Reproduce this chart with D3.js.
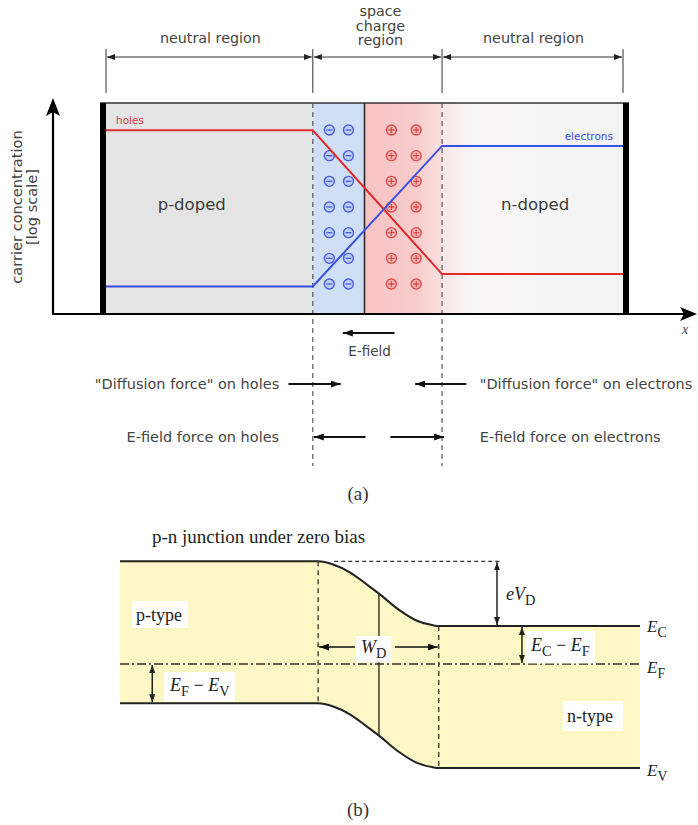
<!DOCTYPE html>
<html>
<head>
<meta charset="utf-8">
<script src="https://cdn.jsdelivr.net/npm/d3@7"></script>
<style>
  body { margin: 0; background: #fff; }
  svg { display: block; }
</style>
</head>
<body>
<svg id="fig" width="698" height="825"></svg>
<script>
// ---------- (a) carrier concentration across a p-n junction ----------
// x positions are given in percent of the device length
const regionEdges = [0, 40, 50, 65, 100];        // p contact | depletion edge | junction | depletion edge | n contact
const sectionSpans = [[0, 40], [40, 65], [65, 100]];
const sectionLabels = [["neutral region"], ["space", "charge", "region"], ["neutral region"]];
// concentrations in cm^-3 (drawn on a log axis)
const holeProfile = [[0, 1e17], [40, 1e17], [65, 1.3e4], [100, 1.3e4]];
const electronProfile = [[0, 1e3], [40, 1e3], [65, 4e15], [100, 4e15]];
const acceptorColumns = [43.2, 46.9];             // fixed negative ions (p side of the depletion zone)
const donorColumns = [55.2, 60.0];                // fixed positive ions (n side)
const ionRows = 7;
const fieldArrow = [55.8, 45.8];
const diffusionArrows = [[35.3, 45.4], [69.7, 59.8]];
const driftArrows = [[50.2, 40.2], [55.0, 65.4]];
const diffusionLabels = ["\"Diffusion force\" on holes", "\"Diffusion force\" on electrons"];
const driftLabels = ["E-field force on holes", "E-field force on electrons"];

// ---------- (b) band diagram under zero bias ----------
const bandGap = 1.12;            // eV
const fermiToValenceP = 0.31;    // E_F - E_V on the p side
const condToFermiN = 0.30;       // E_C - E_F on the n side
const depletionEdgesB = [38.1, 61.3];
const junctionB = 49.8;
// fraction of the built-in band bending reached at each position
const bendProfile = [[0, 0], [38.1, 0], [41.0, 0.05], [44.2, 0.17], [47.5, 0.36], [49.8, 0.5],
                     [53.8, 0.76], [57.1, 0.92], [60.2, 0.99], [61.3, 1], [100, 1]];

const svg = d3.select("#fig");
const defs = svg.append("defs");

function addMarker(id, w, h, color) {
  defs.append("marker")
    .attr("id", id)
    .attr("viewBox", `0 ${-h / 2} ${w} ${h}`)
    .attr("refX", w).attr("refY", 0)
    .attr("markerWidth", w).attr("markerHeight", h)
    .attr("markerUnits", "userSpaceOnUse")
    .attr("orient", "auto-start-reverse")
    .append("path")
    .attr("d", `M0,${-h / 2}L${w},0L0,${h / 2}Z`)
    .attr("fill", color);
}
addMarker("head", 10, 7, "#111");
addMarker("headSmall", 8, 6, "#222");

function gradient(id, stops) {
  const g = defs.append("linearGradient").attr("id", id)
    .attr("x1", "0%").attr("x2", "100%").attr("y1", "0%").attr("y2", "0%");
  stops.forEach(([o, c]) => g.append("stop").attr("offset", o).attr("stop-color", c));
}
gradient("posFill", [["0%", "#f7c3c3"], ["65%", "#f8cbcb"], ["100%", "#fbe1e1"]]);
gradient("nFill", [["0%", "#fae6e6"], ["18%", "#f8f6f6"], ["100%", "#f4f4f4"]]);

// ================= panel (a) =================
const sans = "'DejaVu Sans', Verdana, sans-serif";
const textGrey = "#444";
const xA = d3.scaleLinear().domain([0, 100]).range([106, 623]);
const yA = d3.scaleLog().domain([1, 1e19]).range([320, 108]);
const boxTop = 103, axisY = 314;

const pa = svg.append("g");

// region backgrounds
const regionFills = ["#e4e4e4", "#cfdff6", "url(#posFill)", "url(#nFill)"];
pa.selectAll("rect.region")
  .data(d3.pairs(regionEdges))
  .join("rect")
  .attr("class", "region")
  .attr("x", d => xA(d[0])).attr("width", d => xA(d[1]) - xA(d[0]))
  .attr("y", boxTop).attr("height", axisY - boxTop)
  .attr("fill", (d, i) => regionFills[i]);

// top border and contacts
pa.append("line").attr("x1", xA(0) - 6).attr("x2", xA(100) + 6)
  .attr("y1", boxTop).attr("y2", boxTop).attr("stroke", "#333").attr("stroke-width", 1.6);
[[xA(0) - 6, 6], [xA(100), 6]].forEach(([x, w]) =>
  pa.append("rect").attr("x", x).attr("width", w).attr("y", boxTop).attr("height", axisY - boxTop).attr("fill", "#000"));

// junction
pa.append("line").attr("x1", xA(50)).attr("x2", xA(50)).attr("y1", boxTop).attr("y2", axisY)
  .attr("stroke", "#222").attr("stroke-width", 1.5);

// depletion-edge dashed guides
[40, 65].forEach(e => {
  pa.append("line").attr("x1", xA(e)).attr("x2", xA(e)).attr("y1", boxTop).attr("y2", 466)
    .attr("stroke", "#555").attr("stroke-width", 1.2).attr("stroke-dasharray", "5,4");
});

// dimension lines on top
[0, 40, 65, 100].forEach(e => {
  pa.append("line").attr("x1", xA(e)).attr("x2", xA(e)).attr("y1", 49).attr("y2", 93)
    .attr("stroke", "#333").attr("stroke-width", 1);
});
sectionSpans.forEach(([a, b], i) => {
  pa.append("line").attr("x1", xA(a) + 1).attr("x2", xA(b) - 1).attr("y1", 57).attr("y2", 57)
    .attr("stroke", "#333").attr("stroke-width", 1)
    .attr("marker-start", "url(#headSmall)").attr("marker-end", "url(#headSmall)");
  const lines = sectionLabels[i];
  const t = pa.append("text").attr("text-anchor", "middle").attr("font-family", sans)
    .attr("font-size", 14.3).attr("fill", textGrey);
  const x = i === 1 ? xA((a + b) / 2) + 3 : xA((a + b) / 2) + 1;
  const baseY = lines.length === 1 ? 43 : 16;
  lines.forEach((s, k) => t.append("tspan").attr("x", x).attr("y", baseY + k * 14.5).text(s));
});

// fixed ions in the space-charge region
const yIon = d3.scalePoint().domain(d3.range(ionRows)).range([130, 284]);
const ions = [];
acceptorColumns.forEach(c => d3.range(ionRows).forEach(r => ions.push({ x: c, r, sign: -1 })));
donorColumns.forEach(c => d3.range(ionRows).forEach(r => ions.push({ x: c, r, sign: 1 })));
const ionG = pa.selectAll("g.ion").data(ions).join("g").attr("class", "ion")
  .attr("transform", d => `translate(${xA(d.x)},${yIon(d.r)})`);
ionG.append("circle").attr("r", 5)
  .attr("fill", d => d.sign < 0 ? "#bcd0f5" : "#f6b5b5")
  .attr("stroke", d => d.sign < 0 ? "#4a5ce0" : "#e24a4a").attr("stroke-width", 1.4);
ionG.append("path")
  .attr("d", d => d.sign < 0 ? "M-3,0H3" : "M-3,0H3M0,-3V3")
  .attr("stroke", d => d.sign < 0 ? "#4a5ce0" : "#e24a4a").attr("stroke-width", 1.3);

// carrier profiles
const profileLine = d3.line().x(d => xA(d[0])).y(d => yA(d[1]));
pa.append("path").datum(holeProfile).attr("d", profileLine)
  .attr("fill", "none").attr("stroke", "#e22a2a").attr("stroke-width", 2);
pa.append("path").datum(electronProfile).attr("d", profileLine)
  .attr("fill", "none").attr("stroke", "#3a50e2").attr("stroke-width", 2);
pa.append("text").attr("x", xA(0) + 10).attr("y", yA(holeProfile[0][1]) - 6)
  .attr("font-family", sans).attr("font-size", 10.5).attr("fill", "#e23a3a").text("holes");
pa.append("text").attr("x", xA(100) - 10).attr("y", yA(electronProfile[3][1]) - 6)
  .attr("text-anchor", "end").attr("font-family", sans).attr("font-size", 10.5)
  .attr("fill", "#3a4ee0").text("electrons");

// region names
pa.append("text").attr("x", xA(10)).attr("y", 210).attr("font-family", sans)
  .attr("font-size", 16.5).attr("fill", "#3a3a3a").text("p-doped");
pa.append("text").attr("x", xA(83)).attr("y", 210).attr("text-anchor", "middle").attr("font-family", sans)
  .attr("font-size", 16.5).attr("fill", "#3a3a3a").text("n-doped");

// axes
const axisX0 = 53;
pa.append("path").attr("d", `M${axisX0},${axisY - 210}V${axisY}H688`)
  .attr("fill", "none").attr("stroke", "#000").attr("stroke-width", 2.2).attr("stroke-linejoin", "round");
pa.append("path").attr("d", `M697,${axisY}l-17,-7l4,7l-4,7Z`).attr("fill", "#000");
pa.append("path").attr("d", `M${axisX0},${axisY - 216}l-7,18l7,-4l7,4Z`).attr("fill", "#000");
pa.append("text").attr("x", 682).attr("y", 334).attr("font-family", "'Liberation Serif', serif")
  .attr("font-style", "italic").attr("font-size", 14).attr("fill", "#444").text("x");
const yl = pa.append("text").attr("transform", "translate(22,207) rotate(-90)")
  .attr("text-anchor", "middle").attr("font-family", sans).attr("font-size", 14.6).attr("fill", textGrey);
yl.append("tspan").attr("x", 0).attr("y", 0).text("carrier concentration");
yl.append("tspan").attr("x", 0).attr("y", 15).text("[log scale]");

// field and force arrows
function arrow(g, [a, b], y) {
  g.append("line").attr("x1", xA(a)).attr("x2", xA(b)).attr("y1", y).attr("y2", y)
    .attr("stroke", "#111").attr("stroke-width", 2).attr("marker-end", "url(#head)");
}
arrow(pa, fieldArrow, 333);
pa.append("text").attr("x", xA((fieldArrow[0] + fieldArrow[1]) / 2) + 1).attr("y", 356)
  .attr("text-anchor", "middle").attr("font-family", sans).attr("font-size", 13.5).attr("fill", textGrey).text("E-field");

[[diffusionArrows, diffusionLabels, 384], [driftArrows, driftLabels, 437]].forEach(([arrs, labels, y]) => {
  arrs.forEach(a => arrow(pa, a, y));
  pa.append("text").attr("x", xA(33.5)).attr("y", y + 5).attr("text-anchor", "end")
    .attr("font-family", sans).attr("font-size", 14.5).attr("fill", textGrey).text(labels[0]);
  pa.append("text").attr("x", xA(72.3)).attr("y", y + 5)
    .attr("font-family", sans).attr("font-size", 14.5).attr("fill", textGrey).text(labels[1]);
});

const serif = "'Liberation Serif', 'Times New Roman', serif";
svg.append("text").attr("x", 358).attr("y", 500).attr("text-anchor", "middle")
  .attr("font-family", serif).attr("font-size", 19).attr("fill", "#333").text("(a)");

// ================= panel (b) =================
const xB = d3.scaleLinear().domain([0, 100]).range([120, 640]);
const yB = d3.scaleLinear().domain([0, 1]).range([664, 537.2]);   // energy in eV, E_F = 0
const ecP = bandGap - fermiToValenceP;
const ecN = condToFermiN;
const builtIn = ecP - ecN;
const ec = f => ecP - f * builtIn;
const ev = f => ec(f) - bandGap;
const bendAt = x => {
  const i = d3.bisector(d => d[0]).right(bendProfile, x);
  const p0 = bendProfile[Math.max(0, i - 1)], p1 = bendProfile[Math.min(bendProfile.length - 1, i)];
  return p1[0] === p0[0] ? p0[1] : p0[1] + (p1[1] - p0[1]) * (x - p0[0]) / (p1[0] - p0[0]);
};

const pb = svg.append("g");
const bandArea = d3.area().curve(d3.curveMonotoneX)
  .x(d => xB(d[0])).y0(d => yB(ev(d[1]))).y1(d => yB(ec(d[1])));
pb.append("path").datum(bendProfile).attr("d", bandArea).attr("fill", "#fcf7c5");

const ecLine = d3.line().curve(d3.curveMonotoneX).x(d => xB(d[0])).y(d => yB(ec(d[1])));
const evLine = d3.line().curve(d3.curveMonotoneX).x(d => xB(d[0])).y(d => yB(ev(d[1])));
[ecLine, evLine].forEach(l => pb.append("path").datum(bendProfile).attr("d", l)
  .attr("fill", "none").attr("stroke", "#222").attr("stroke-width", 2));

// Fermi level
pb.append("line").attr("x1", xB(0)).attr("x2", xB(100)).attr("y1", yB(0)).attr("y2", yB(0))
  .attr("stroke", "#333").attr("stroke-width", 1.3).attr("stroke-dasharray", "9,3,2,3");

// depletion edges and junction
depletionEdgesB.forEach(e => {
  const f = bendAt(e);
  pb.append("line").attr("x1", xB(e)).attr("x2", xB(e)).attr("y1", yB(ec(f))).attr("y2", yB(ev(f)))
    .attr("stroke", "#333").attr("stroke-width", 1.3).attr("stroke-dasharray", "5,4");
});
{
  const f = bendAt(junctionB);
  pb.append("line").attr("x1", xB(junctionB)).attr("x2", xB(junctionB))
    .attr("y1", yB(ec(f))).attr("y2", yB(ev(f))).attr("stroke", "#222").attr("stroke-width", 1.3);
}

// reference level for the built-in potential
pb.append("line").attr("x1", xB(41.2)).attr("x2", xB(73.2)).attr("y1", yB(ecP)).attr("y2", yB(ecP))
  .attr("stroke", "#333").attr("stroke-width", 1.3).attr("stroke-dasharray", "4,3");

function dbl(x, e0, e1) {
  pb.append("line").attr("x1", x).attr("x2", x).attr("y1", yB(e0) + 1).attr("y2", yB(e1) - 1)
    .attr("stroke", "#111").attr("stroke-width", 1.4)
    .attr("marker-start", "url(#headSmall)").attr("marker-end", "url(#headSmall)");
}
dbl(xB(72.5), ecP, ecN);            // eV_D
dbl(xB(77.3), ecN, 0);              // E_C - E_F
dbl(xB(6.2), 0, -fermiToValenceP);  // E_F - E_V

// labelled text with optional subscripts: parts = [[text, italic, sub]]
function label(g, x, y, parts, size, boxed, pad) {
  const t = g.append("text").attr("x", x).attr("y", y).attr("font-family", serif)
    .attr("font-size", size).attr("fill", "#222");
  let shifted = false;
  parts.forEach(([s, it, sub]) => {
    const ts = t.append("tspan").text(s).attr("font-style", it ? "italic" : "normal");
    if (sub && !shifted) { ts.attr("dy", size * 0.3).attr("font-size", size * 0.8); shifted = true; }
    else if (sub) { ts.attr("font-size", size * 0.8); }
    else if (shifted) { ts.attr("dy", -size * 0.3); shifted = false; }
  });
  if (boxed) {
    const b = t.node().getBBox();
    const p = pad || [4, 2, 4, 2];
    g.insert("rect", () => t.node())
      .attr("x", b.x - p[0]).attr("y", b.y - p[1])
      .attr("width", b.width + p[0] + p[2]).attr("height", b.height + p[1] + p[3])
      .attr("fill", "#fff");
  }
  return t;
}

// W_D span
pb.append("line").attr("x1", xB(45.2)).attr("x2", xB(depletionEdgesB[0]) + 1).attr("y1", 647).attr("y2", 647)
  .attr("stroke", "#111").attr("stroke-width", 1.4).attr("marker-end", "url(#head)");
pb.append("line").attr("x1", xB(52.9)).attr("x2", xB(depletionEdgesB[1]) - 1).attr("y1", 647).attr("y2", 647)
  .attr("stroke", "#111").attr("stroke-width", 1.4).attr("marker-end", "url(#head)");
label(pb, 361, 653, [["W", true], ["D", false, true]], 18, true, [5, 1, 5, 1]);

label(pb, 136, 621, [["p-type", false]], 18, true, [4, 4, 6, 3]);
label(pb, 567, 722, [["n-type", false]], 18, true, [4, 5, 10, 5]);
label(pb, 170, 691, [["E", true], ["F", false, true], [" \u2212 ", false], ["E", true], ["V", false, true]], 18, true, [5, 3, 5, 2]);
label(pb, 531, 651, [["E", true], ["C", false, true], [" \u2212 ", false], ["E", true], ["F", false, true]], 18, true, [4, 4, 5, 4]);
label(pb, 506, 600, [["eV", true], ["D", false, true]], 18, false);

label(pb, 647, yB(ecN) + 6, [["E", true], ["C", false, true]], 17, false);
label(pb, 647, yB(0) + 9, [["E", true], ["F", false, true]], 17, false);
label(pb, 647, yB(ecN - bandGap) + 8, [["E", true], ["V", false, true]], 17, false);

svg.append("text").attr("x", 152).attr("y", 543).attr("font-family", serif)
  .attr("font-size", 19).attr("fill", "#222").text("p-n junction under zero bias");
svg.append("text").attr("x", 358).attr("y", 816).attr("text-anchor", "middle")
  .attr("font-family", serif).attr("font-size", 19).attr("fill", "#333").text("(b)");
</script>
</body>
</html>
